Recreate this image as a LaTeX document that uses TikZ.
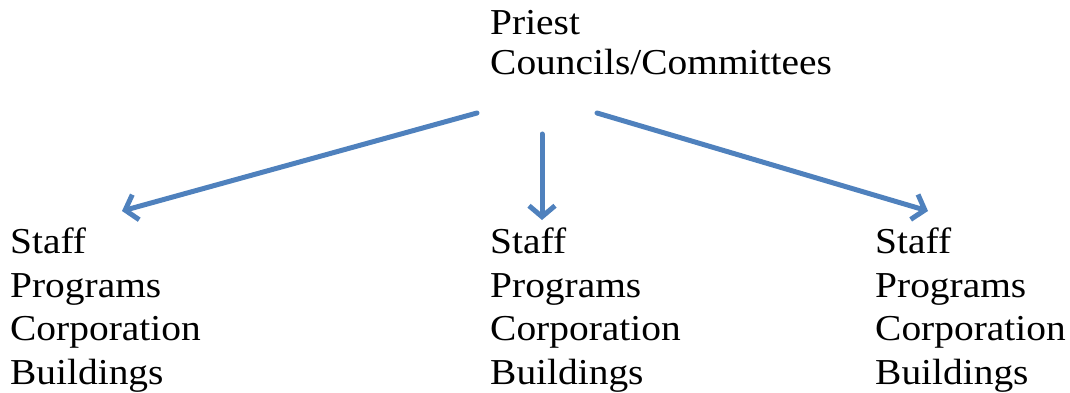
\documentclass[tikz,border=0pt]{standalone}
\usepackage{fontspec}
\setmainfont{Liberation Serif}[FakeStretch=1.08]
\usetikzlibrary{arrows.meta}
\definecolor{arrowblue}{RGB}{79,129,189}
\tikzset{
  lbl/.style={anchor=base west, align=left, inner sep=0pt, font=\fontsize{36.5}{43.5}\selectfont},
  conn/.style={draw=arrowblue, line width=5pt, line cap=round, -{Straight Barb[length=11pt,width=26pt,line width=5pt]}},
}
\begin{document}
\begin{tikzpicture}[x=1pt,y=-1pt]
\useasboundingbox (0,0) rectangle (1070,393);
\node[lbl, font=\fontsize{36.5}{40}\selectfont] (top) at (490,75) {Priest\\Councils/Committees};
\node[lbl] (left) at (10,384) {Staff\\Programs\\Corporation\\Buildings};
\node[lbl] (mid) at (490,384) {Staff\\Programs\\Corporation\\Buildings};
\node[lbl] (right) at (875,384) {Staff\\Programs\\Corporation\\Buildings};
\coordinate (sL) at (477,113);
\coordinate (sM) at (542,134);
\coordinate (sR) at (597,113);
\coordinate (eL) at (122,211);
\coordinate (eM) at (542,220);
\coordinate (eR) at (928,211);
\draw[conn] (sL) -- (eL);
\draw[conn] (sM) -- (eM);
\draw[conn] (sR) -- (eR);
\end{tikzpicture}
\end{document}
